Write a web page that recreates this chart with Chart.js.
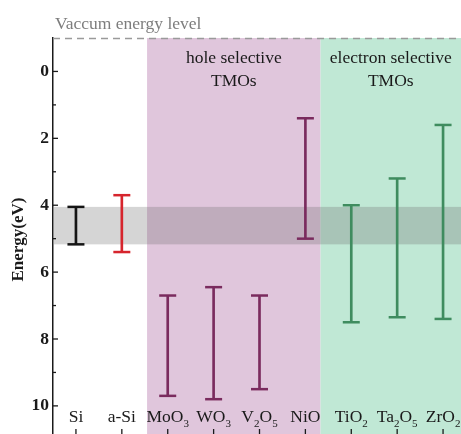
<!DOCTYPE html>
<html>
<head>
<meta charset="utf-8">
<script src="https://cdn.jsdelivr.net/npm/chart.js@4/dist/chart.umd.min.js"></script>
<style>
  html, body { margin: 0; padding: 0; background: #fff; }
  #wrap { width: 461px; height: 434px; overflow: hidden; position: relative; }
  canvas { display: block; }
</style>
</head>
<body>
<div id="wrap"><canvas id="c" width="467" height="442"></canvas></div>
<script>
// Materials along the x axis ("_n" marks a subscript digit)
const categories = ['Si', 'a-Si', 'MoO_3', 'WO_3', 'V_2O_5', 'NiO', 'TiO_2', 'Ta_2O_5', 'ZrO_2'];
// Upper (conduction band) and lower (valence band) energy edges below vacuum, eV
const upperEdge = [4.05, 3.7, 6.7, 6.45, 6.7, 1.4, 4.0, 3.2, 1.6];
const lowerEdge = [5.17, 5.4, 9.7, 9.8, 9.5, 5.0, 7.5, 7.35, 7.4];
// Energy tick labels
const yTicks = [0, 2, 4, 6, 8, 10];
const yMinorTicks = [1, 3, 5, 7, 9];
// Silicon band window shaded across the plot
const siBand = [4.05, 5.17];
// Groups of transport materials (start/end in category units)
const holeGroup = { from: 1.55, to: 5.33, title: ['hole selective', 'TMOs'] };
const electronGroup = { from: 5.33, to: 8.6, title: ['electron selective', 'TMOs'] };

const barColors = ['#151515', '#d6252d', '#7a2b5e', '#7a2b5e', '#7a2b5e', '#7a2b5e', '#3f8c5f', '#3f8c5f', '#3f8c5f'];
const SERIF = '"Liberation Serif", "DejaVu Serif", serif';

function drawRich(ctx, label, cx, baseline, size) {
  const parts = label.split(/(_\d)/).filter(s => s.length);
  const subSize = Math.round(size * 0.62);
  let total = 0;
  const pieces = parts.map(p => {
    const sub = p.startsWith('_');
    const text = sub ? p.slice(1) : p;
    ctx.font = (sub ? subSize : size) + 'px ' + SERIF;
    const w = ctx.measureText(text).width;
    total += w;
    return { text, sub, w };
  });
  let x = cx - total / 2;
  ctx.textAlign = 'left';
  ctx.textBaseline = 'alphabetic';
  pieces.forEach(p => {
    ctx.font = (p.sub ? subSize : size) + 'px ' + SERIF;
    ctx.fillText(p.text, x, baseline + (p.sub ? 5 : 0));
    x += p.w;
  });
}

const decor = {
  id: 'decor',
  beforeDatasetsDraw(chart) {
    const { ctx, chartArea: a, scales: { x, y } } = chart;
    const step = x.getPixelForValue(1) - x.getPixelForValue(0);
    const px = v => x.getPixelForValue(0) + v * step;
    ctx.save();
    // group backgrounds
    ctx.fillStyle = '#e0c6dc';
    ctx.fillRect(px(holeGroup.from), a.top, px(holeGroup.to) - px(holeGroup.from), a.bottom - a.top);
    ctx.fillStyle = '#c0e8d5';
    ctx.fillRect(px(electronGroup.from), a.top, a.right - px(electronGroup.from), a.bottom - a.top);
    // Si band window
    const yb0 = y.getPixelForValue(siBand[0]);
    const yb1 = y.getPixelForValue(siBand[1]);
    ctx.fillStyle = 'rgba(110,110,110,0.29)';
    ctx.fillRect(a.left + 1, yb0, a.right - a.left, yb1 - yb0);
    // vacuum level
    ctx.strokeStyle = '#9a9a9a';
    ctx.lineWidth = 1.3;
    ctx.setLineDash([7, 5]);
    ctx.beginPath();
    ctx.moveTo(a.left, a.top + 0.5);
    ctx.lineTo(a.right, a.top + 0.5);
    ctx.stroke();
    ctx.setLineDash([]);
    ctx.restore();
  },
  afterDatasetsDraw(chart) {
    const { ctx, chartArea: a, scales: { x, y } } = chart;
    const meta = chart.getDatasetMeta(0);
    const step = x.getPixelForValue(1) - x.getPixelForValue(0);
    const px = v => x.getPixelForValue(0) + v * step;
    ctx.save();
    // caps of the band bars
    meta.data.forEach((el, i) => {
      ctx.strokeStyle = barColors[i];
      ctx.lineWidth = 2.5;
      [upperEdge[i], lowerEdge[i]].forEach(v => {
        const yy = y.getPixelForValue(v);
        ctx.beginPath();
        ctx.moveTo(el.x - 8.5, yy);
        ctx.lineTo(el.x + 8.5, yy);
        ctx.stroke();
      });
    });
    // inward ticks on the energy axis
    ctx.strokeStyle = '#1a1a1a';
    ctx.lineWidth = 1.3;
    yTicks.forEach(v => {
      const yy = y.getPixelForValue(v);
      ctx.beginPath(); ctx.moveTo(a.left, yy); ctx.lineTo(a.left + 5, yy); ctx.stroke();
    });
    yMinorTicks.forEach(v => {
      const yy = y.getPixelForValue(v);
      ctx.beginPath(); ctx.moveTo(a.left, yy); ctx.lineTo(a.left + 3, yy); ctx.stroke();
    });
    // inward ticks on the bottom axis
    categories.forEach((c, i) => {
      const xx = x.getPixelForValue(i);
      ctx.beginPath(); ctx.moveTo(xx, a.bottom); ctx.lineTo(xx, a.bottom - 12); ctx.stroke();
    });
    // material names
    ctx.fillStyle = '#1a1a1a';
    const base = y.getPixelForValue(10) + 16;
    categories.forEach((c, i) => drawRich(ctx, c, x.getPixelForValue(i), base, 17.5));
    // group titles
    ctx.font = '17.5px ' + SERIF;
    ctx.textAlign = 'center';
    ctx.textBaseline = 'alphabetic';
    [holeGroup, electronGroup].forEach(g => {
      const right = Math.min(px(g.to), 461);
      const cx = (px(g.from) + right) / 2;
      g.title.forEach((t, k) => ctx.fillText(t, cx, a.top + 25 + k * 23));
    });
    // vacuum level caption
    ctx.fillStyle = '#7d7d7d';
    ctx.font = '17.5px ' + SERIF;
    ctx.textAlign = 'left';
    ctx.fillText('Vaccum energy level', 55, 29);
    ctx.restore();
  }
};

new Chart(document.getElementById('c'), {
  type: 'bar',
  data: {
    labels: categories,
    datasets: [{
      data: categories.map((c, i) => [upperEdge[i], lowerEdge[i]]),
      backgroundColor: barColors,
      borderWidth: 0,
      barThickness: 2,
      borderSkipped: false
    }]
  },
  options: {
    responsive: false,
    animation: false,
    devicePixelRatio: 1,
    layout: { padding: { top: 38, right: 1, bottom: 1, left: 0 } },
    plugins: { legend: { display: false }, tooltip: { enabled: false } },
    scales: {
      x: { display: false, offset: true },
      y: {
        reverse: true,
        min: -1,
        max: 11.05,
        afterBuildTicks: s => { s.ticks = yTicks.map(v => ({ value: v })); },
        afterFit: s => { s.width = 53; s.paddingTop = 0; s.paddingBottom = 0; },
        grid: { drawOnChartArea: false, drawTicks: false },
        border: { display: true, color: '#1a1a1a', width: 1.5 },
        ticks: {
          padding: 4,
          color: '#1a1a1a',
          font: { family: SERIF, size: 17.5, weight: 'bold' }
        },
        title: {
          display: true,
          text: 'Energy(eV)',
          color: '#1a1a1a',
          padding: { top: 8, bottom: 0 },
          font: { family: SERIF, size: 17, weight: 'bold' }
        }
      }
    }
  },
  plugins: [decor]
});
</script>
</body>
</html>
